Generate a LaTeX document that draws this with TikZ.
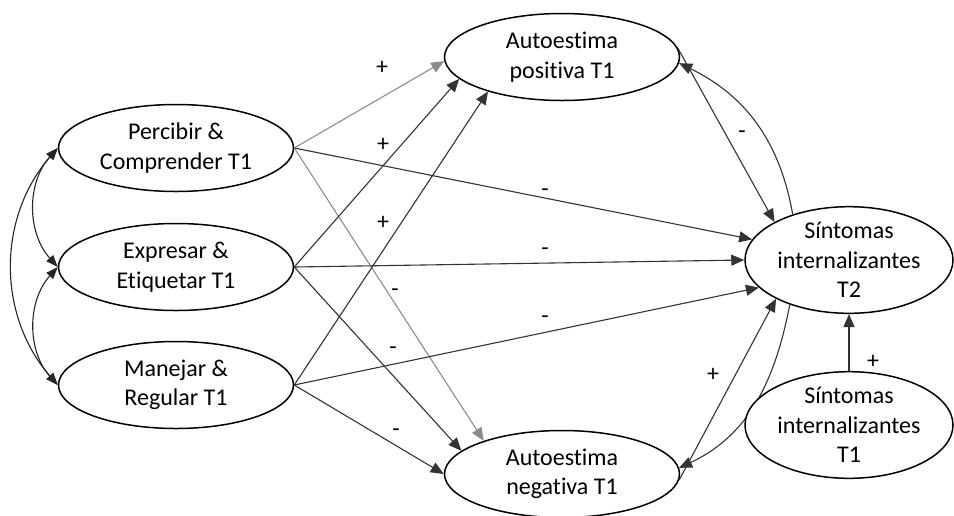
\documentclass[tikz,border=0pt]{standalone}
\usepackage{fontspec}
\setmainfont{Carlito}[Ligatures=NoCommon]
\usetikzlibrary{shapes.geometric,arrows.meta}
\begin{document}
\begin{tikzpicture}[x=1pt,y=-1pt,
  lat/.style={ellipse,draw,line width=1.5pt,fill=white,inner sep=0pt,align=center,
    font=\fontsize{24}{29.5}\selectfont},
  lft/.style={lat,minimum width=235pt,minimum height=87pt},
  rgt/.style={lat,minimum width=208pt,minimum height=99pt},
  arr/.style={-{Triangle[length=13pt,width=11pt]},line width=1.1pt,draw=black!80},
  lgt/.style={arr,draw=black!45},
  dbl/.style={{Triangle[length=12pt,width=9pt]}-{Triangle[length=12pt,width=9pt]},line width=1.1pt,draw=black!85},
  lbl/.style={font=\fontsize{24}{29}\selectfont,inner sep=0pt}
]
\useasboundingbox (0,0) rectangle (954,515);

\node[lft] (perc) at (176,148) {Percibir \&\\Comprender T1};
\node[lft] (expr) at (176,267) {Expresar \&\\Etiquetar T1};
\node[lft] (manj) at (176,385) {Manejar \&\\Regular T1};
\node[lft] (apos) at (562,57) {Autoestima\\positiva T1};
\node[lft] (aneg) at (562,474) {Autoestima\\negativa T1};
\node[rgt] (st2) at (849,260) {Síntomas\\internalizantes\\T2};

% left correlations
\draw[dbl] (perc.west) to[out=228,in=132] (expr.west);
\draw[dbl] (expr.west) to[out=228,in=132] (manj.west);
\draw[dbl] (perc.west) to[out=229,in=131] (manj.west);

% paths from left nodes
\draw[lgt] (perc.east) -- (apos.182);
\draw[arr] (perc.east) -- (st2.168);
\draw[lgt] (perc.east) -- (aneg.157);
\draw[arr] (expr.east) -- (apos.192);
\draw[arr] (expr.east) -- (st2.180);
\draw[arr] (expr.east) -- (aneg.167);
\draw[arr] (manj.east) -- (apos.205);
\draw[arr] (manj.east) -- (st2.197);
\draw[arr] (manj.east) -- (aneg.180);

% self-esteem to symptoms
\draw[arr] (apos.5) -- (st2.153);
\draw[arr] (aneg.-3) -- (st2.208);
\draw[arr] (st2.141) to[out=100,in=-26] (apos.-3);
\draw[arr] (st2.217) to[out=259,in=25] (aneg.3);

\node[rgt] (st1) at (849,425) {Síntomas\\internalizantes\\T1};
\draw[arr] (st1.north) -- (st2.south);

% labels
\node[lbl] (l1) at (382,68) {+};
\node[lbl] (l2) at (383,145) {+};
\node[lbl] (l3) at (383,223) {+};
\node[lbl] (l4) at (545,193) {-};
\node[lbl] (l5) at (545,252) {-};
\node[lbl] (l6) at (545,320) {-};
\node[lbl] (l7) at (395,293) {-};
\node[lbl] (l8) at (393,351) {-};
\node[lbl] (l9) at (396,433) {-};
\node[lbl] (l10) at (742,135) {-};
\node[lbl] (l11) at (713,375) {+};
\node[lbl] (l12) at (873,362) {+};
\end{tikzpicture}
\end{document}
